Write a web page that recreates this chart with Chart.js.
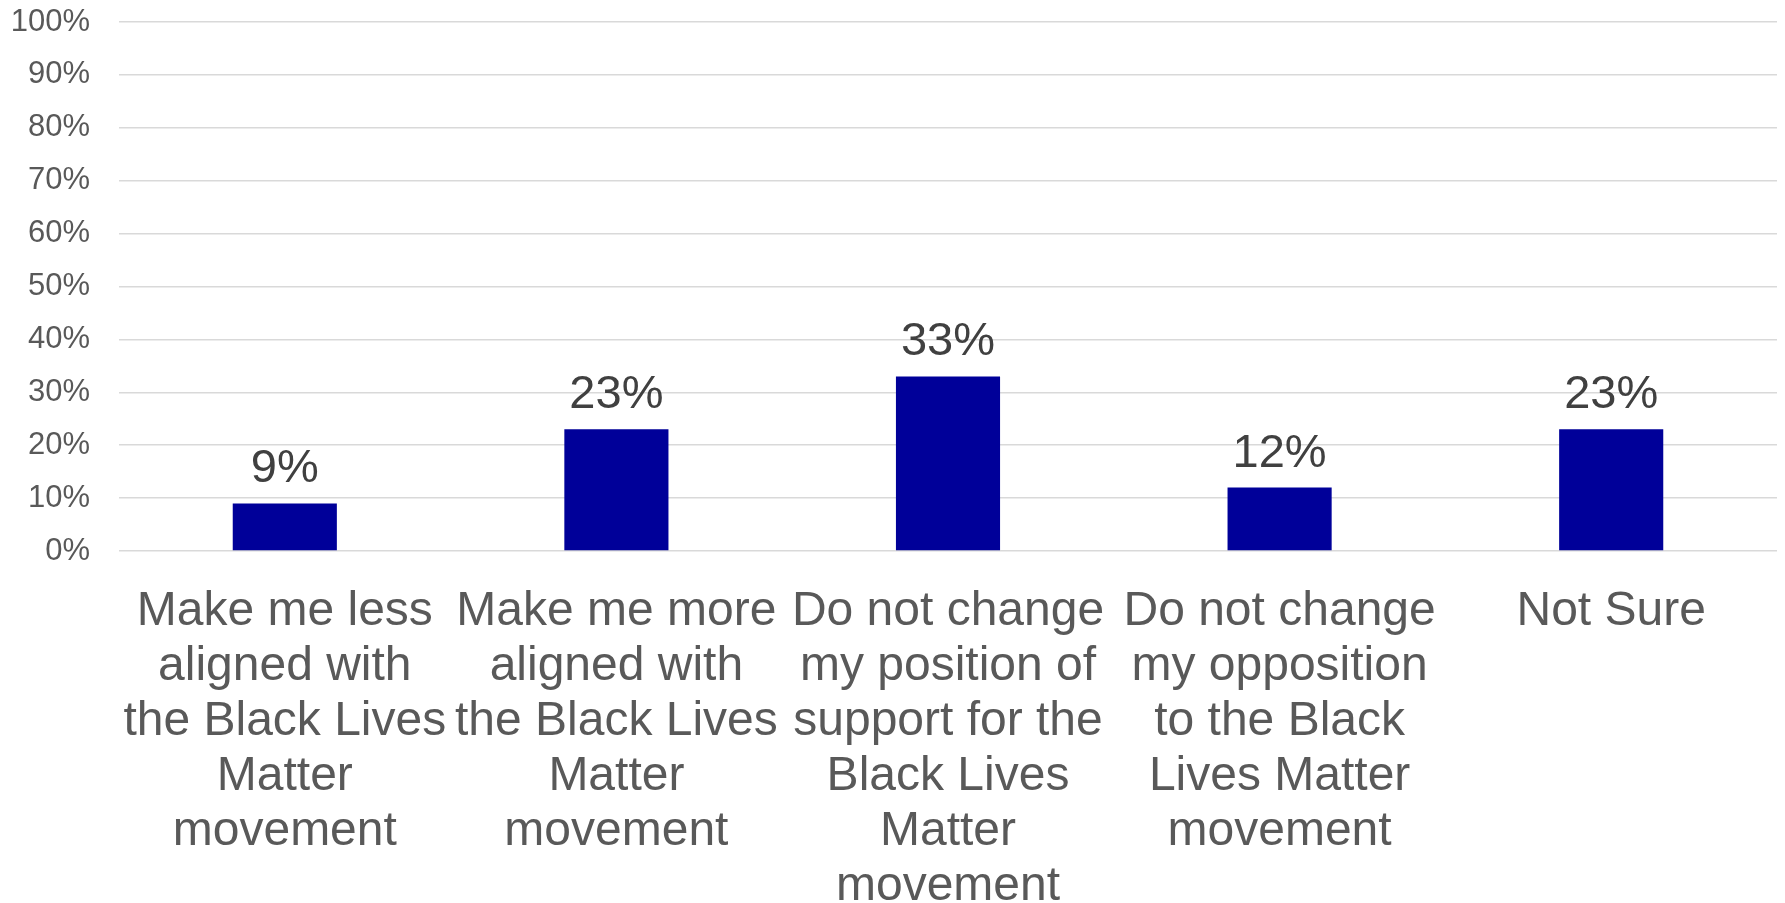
<!DOCTYPE html>
<html>
<head>
<meta charset="utf-8">
<script src="https://cdn.jsdelivr.net/npm/chart.js@4/dist/chart.umd.min.js"></script>
<style>
  html, body { margin: 0; padding: 0; background: #ffffff; }
  #wrap { width: 1785px; height: 903px; position: relative; }
</style>
</head>
<body>
<div id="wrap"><canvas id="c" width="1785" height="903"></canvas></div>
<script>
const categories = [
  ["Make me less", "aligned with", "the Black Lives", "Matter", "movement"],
  ["Make me more", "aligned with", "the Black Lives", "Matter", "movement"],
  ["Do not change", "my position of", "support for the", "Black Lives", "Matter", "movement"],
  ["Do not change", "my opposition", "to the Black", "Lives Matter", "movement"],
  ["Not Sure"]
];
const values = [9, 23, 33, 12, 23];
const yTicks = [0, 10, 20, 30, 40, 50, 60, 70, 80, 90, 100];

const valueLabels = {
  id: 'valueLabels',
  afterDatasetsDraw(chart) {
    const ctx = chart.ctx;
    const meta = chart.getDatasetMeta(0);
    ctx.save();
    ctx.font = '47px "Liberation Sans", Arial, sans-serif';
    ctx.fillStyle = '#404040';
    ctx.textAlign = 'center';
    ctx.textBaseline = 'alphabetic';
    meta.data.forEach((bar, i) => {
      ctx.fillText(chart.data.datasets[0].data[i] + '%', bar.x, bar.y - 21);
    });
    ctx.restore();
  }
};

new Chart(document.getElementById('c'), {
  type: 'bar',
  data: {
    labels: categories,
    datasets: [{
      data: values,
      backgroundColor: '#000099',
      borderWidth: 0,
      categoryPercentage: 1,
      barPercentage: 0.314
    }]
  },
  options: {
    responsive: false,
    animation: false,
    devicePixelRatio: 1,
    layout: { padding: { top: 0, right: 8, bottom: 0, left: 0 } },
    plugins: { legend: { display: false }, tooltip: { enabled: false } },
    scales: {
      x: {
        grid: { display: false, drawTicks: false },
        border: { display: false },
        ticks: {
          color: '#595959',
          font: { family: '"Liberation Sans", Arial, sans-serif', size: 48, lineHeight: 1.145 },
          padding: 33,
          maxRotation: 0,
          autoSkip: false
        },
        afterFit(scale) { scale.height = 352; }
      },
      y: {
        min: 0,
        max: 100,
        afterBuildTicks(scale) { scale.ticks = yTicks.map(v => ({ value: v })); },
        grid: { color: '#d9d9d9', lineWidth: 1.5, drawTicks: false },
        border: { display: false },
        ticks: {
          color: '#595959',
          font: { family: '"Liberation Sans", Arial, sans-serif', size: 31 },
          padding: 29,
          callback: (v) => v + '%'
        },
        afterFit(scale) {
          scale.width = 119;
          scale.paddingTop = 22;
          scale.paddingBottom = 0;
        }
      }
    }
  },
  plugins: [valueLabels]
});
</script>
</body>
</html>
